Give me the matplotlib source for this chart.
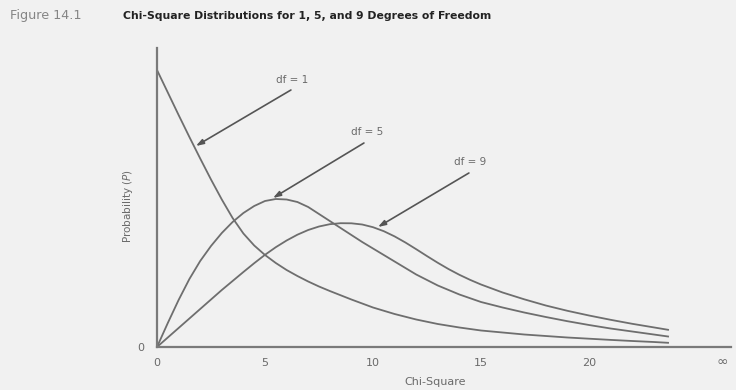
import matplotlib
matplotlib.use("Agg")
import matplotlib.pyplot as plt

# values (arbitrary probability units)
x_df1 = [0, 0.5, 1, 1.5, 2, 2.5, 3, 3.5, 4, 4.5, 5, 5.5, 6, 6.5, 7, 7.5, 8,
         9, 10, 11, 12, 13, 14, 15, 16, 17, 18, 19, 20, 21, 22, 23, 23.66]
p_df1 = [0.277, 0.2545, 0.232, 0.210, 0.1885, 0.1675, 0.1475, 0.129, 0.1135,
         0.1015, 0.092, 0.084, 0.077, 0.071, 0.0655, 0.0605, 0.056, 0.0475,
         0.0395, 0.033, 0.0275, 0.023, 0.0195, 0.0165, 0.0145, 0.0125, 0.011,
         0.0095, 0.0083, 0.0071, 0.006, 0.005, 0.0042]

x_df5 = [0, 0.5, 1, 1.5, 2, 2.5, 3, 3.5, 4, 4.5, 5, 5.5, 6, 6.5, 7, 7.5, 8,
         8.5, 9, 9.5, 10, 10.5, 11, 11.5, 12, 13, 14, 15, 16, 17, 18, 19, 20,
         21, 22, 23, 23.66]
p_df5 = [0.000, 0.024, 0.047, 0.068, 0.086, 0.101, 0.114, 0.125, 0.134, 0.141,
         0.146, 0.148, 0.1475, 0.145, 0.140, 0.133, 0.126, 0.119, 0.112, 0.105,
         0.0985, 0.092, 0.0855, 0.079, 0.0725, 0.0615, 0.0525, 0.045, 0.0395,
         0.0345, 0.030, 0.0258, 0.022, 0.0185, 0.0155, 0.0125, 0.0105]

x_df9 = [0, 0.5, 1, 1.5, 2, 2.5, 3, 3.5, 4, 4.5, 5, 5.5, 6, 6.5, 7, 7.5, 8,
         8.5, 9, 9.5, 10, 10.5, 11, 11.5, 12, 12.5, 13, 13.5, 14, 14.5, 15, 16,
         17, 18, 19, 20, 21, 22, 23, 23.66]
p_df9 = [0.000, 0.0095, 0.019, 0.0285, 0.038, 0.0475, 0.057, 0.066, 0.075,
         0.0838, 0.0922, 0.0998, 0.1065, 0.1123, 0.117, 0.1205, 0.1228, 0.1238,
         0.1237, 0.1225, 0.1198, 0.1158, 0.1106, 0.1045, 0.0978, 0.0909,
         0.0842, 0.0779, 0.0722, 0.0671, 0.0625, 0.0545, 0.0477, 0.0415,
         0.0362, 0.0315, 0.0272, 0.0232, 0.0196, 0.0172]

tick_vals = [0, 5, 10, 15, 20]
tick_labels = ['0', '5', '10', '15', '20']

bg = '#f1f1f1'
line_col = '#6e6e6e'
txt_col = '#6a6a6a'

fig = plt.figure(figsize=(7.36, 3.9), dpi=100, facecolor=bg)
ax = fig.add_axes([157 / 736, 43 / 390, 574 / 736, 299 / 390])
ax.set_facecolor(bg)

for xs, ys in ((x_df1, p_df1), (x_df5, p_df5), (x_df9, p_df9)):
    ax.plot(xs, ys, color=line_col, lw=1.3, solid_joinstyle='round')

ax.set_xlim(0, 574 / 21.6)
ax.set_ylim(0, 0.299)

ax.set_xticks(tick_vals)
ax.set_xticklabels(tick_labels)
ax.set_yticks([0])
ax.set_yticklabels(['0'])
ax.tick_params(axis='both', length=0, labelsize=8, labelcolor=txt_col)
ax.tick_params(axis='x', pad=8)
ax.tick_params(axis='y', pad=9)

# infinity label at the far end of the axis
inf_pos = (722 - 157) / 21.6
ax.text(inf_pos, -15 / 299, '\u221e', fontsize=10, color=txt_col,
        ha='center', va='center', transform=ax.get_xaxis_transform())

for s in ('top', 'right'):
    ax.spines[s].set_visible(False)
for s in ('left', 'bottom'):
    ax.spines[s].set_color('#7a7a7a')
    ax.spines[s].set_linewidth(1.6)

# arrows and labels
arrows = [('df = 1', (1.8, 0.201), (6.2, 0.257), (6.25, 0.262)),
          ('df = 5', (5.37, 0.149), (9.58, 0.204), (9.72, 0.210)),
          ('df = 9', (10.23, 0.120), (14.44, 0.174), (14.5, 0.180))]
for lab, tip, start, tpos in arrows:
    ax.annotate('', xy=tip, xytext=start,
                arrowprops=dict(arrowstyle='-|>,head_length=0.45,head_width=0.15',
                                color='#555555', lw=1.2, shrinkA=0, shrinkB=0))
    ax.text(tpos[0], tpos[1], lab, fontsize=7.5, color=txt_col,
            ha='center', va='bottom')

fig.text(128 / 736, 1 - 206 / 390, 'Probability ($P$)', rotation=90,
         fontsize=7.5, color=txt_col, ha='center', va='center')
fig.text(435 / 736, 1 - 382 / 390, 'Chi-Square', fontsize=8,
         color=txt_col, ha='center', va='center')

fig.text(10 / 736, 1 - 16 / 390, 'Figure 14.1', fontsize=9.2,
         color='#858585', ha='left', va='center')
fig.text(123 / 736, 1 - 16 / 390,
         'Chi-Square Distributions for 1, 5, and 9 Degrees of Freedom',
         fontsize=7.8, fontweight='bold', color='#222222', ha='left', va='center')

fig.savefig('out.png', dpi=100, facecolor=bg)
